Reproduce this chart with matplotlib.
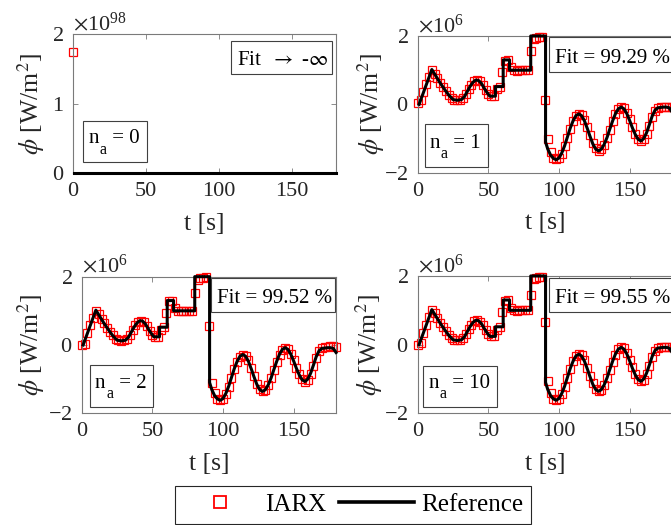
import numpy as np
import matplotlib
matplotlib.use("Agg")
import matplotlib.pyplot as plt
from matplotlib.lines import Line2D
from matplotlib.patches import Rectangle
from matplotlib.ticker import ScalarFormatter
from matplotlib.transforms import offset_copy

plt.rcParams.update({
    "font.family": ["Liberation Serif", "DejaVu Serif"],
    "mathtext.fontset": "stix",
    "axes.unicode_minus": False,
})

# ---------------------------------------------------------------- data
# Reference heat flux (vertices of the measured curve), in 10^6 W/m^2
ref_t = [1, 10, 13, 16, 19, 22, 25, 28, 31, 33, 35, 37, 39, 41, 43, 45, 47,
         49, 51, 55, 55, 60.5, 60.5, 65, 65, 80, 80, 90.5, 90.5, 92, 94, 96,
         98, 100, 102, 104, 106, 108, 110, 112, 114, 116, 118, 120, 122, 124,
         126, 128, 130, 132, 134, 136, 138, 140, 142, 144, 146, 148, 150, 152,
         154, 156, 158, 160, 162, 164, 166, 168, 170, 172, 174, 176, 178, 180]
ref_phi = [0.00, 1.02, 0.82, 0.62, 0.44, 0.27, 0.14, 0.12, 0.14, 0.22, 0.37,
           0.52, 0.64, 0.71, 0.70, 0.62, 0.48, 0.35, 0.24, 0.24, 0.52, 0.52,
           1.30, 1.30, 1.00, 1.00, 2.00, 2.00, -1.10, -1.30, -1.48, -1.58,
           -1.62, -1.57, -1.42, -1.21, -0.95, -0.69, -0.48, -0.33, -0.28,
           -0.33, -0.48, -0.70, -0.94, -1.16, -1.31, -1.36, -1.31, -1.17,
           -0.97, -0.72, -0.48, -0.27, -0.13, -0.08, -0.13, -0.27, -0.47,
           -0.69, -0.88, -1.02, -1.07, -1.00, -0.83, -0.59, -0.34, -0.17,
           -0.10, -0.09, -0.08, -0.08, -0.10, -0.22]

# IARX one-step predictions, sampled every 2 s, in 10^6 W/m^2
sample_t = np.arange(0, 181, 2)
iarx_na1 = [0.05, 0.13, 0.36, 0.59, 0.80, 1.00, 0.90, 0.76, 0.63, 0.50, 0.39,
            0.28, 0.18, 0.14, 0.13, 0.14, 0.18, 0.30, 0.45, 0.58, 0.68, 0.71,
            0.67, 0.56, 0.42, 0.30, 0.24, 0.24, 0.45, 0.52, 0.95, 1.28, 1.30,
            1.08, 1.00, 0.99, 1.00, 1.00, 1.00, 1.00, 1.55, 1.90, 1.95, 1.97,
            1.98, 0.12, -1.00, -1.40, -1.56, -1.60, -1.57, -1.44, -1.23, -0.97,
            -0.71, -0.49, -0.34, -0.28, -0.31, -0.45, -0.67, -0.91, -1.13,
            -1.29, -1.36, -1.32, -1.18, -0.98, -0.74, -0.50, -0.29, -0.14,
            -0.08, -0.11, -0.25, -0.44, -0.66, -0.86, -1.00, -1.07, -1.02,
            -0.86, -0.62, -0.37, -0.19, -0.10, -0.08, -0.08, -0.07, -0.07,
            -0.08]
iarx_na2 = [0.00, 0.02, 0.34, 0.58, 0.80, 1.00, 0.91, 0.77, 0.63, 0.50, 0.39,
            0.28, 0.18, 0.14, 0.13, 0.14, 0.18, 0.30, 0.45, 0.58, 0.68, 0.71,
            0.67, 0.56, 0.42, 0.30, 0.24, 0.24, 0.44, 0.52, 0.94, 1.28, 1.30,
            1.08, 1.00, 0.99, 1.00, 1.00, 1.00, 1.00, 1.52, 1.90, 1.95, 1.97,
            1.98, 0.55, -1.10, -1.42, -1.57, -1.61, -1.57, -1.44, -1.23, -0.97,
            -0.71, -0.49, -0.34, -0.28, -0.31, -0.45, -0.67, -0.91, -1.13,
            -1.29, -1.36, -1.32, -1.18, -0.98, -0.74, -0.50, -0.29, -0.14,
            -0.08, -0.11, -0.25, -0.44, -0.66, -0.86, -1.00, -1.07, -1.02,
            -0.86, -0.62, -0.37, -0.19, -0.08, -0.05, -0.05, -0.04, -0.04,
            -0.05]
iarx_na10 = [0.00, 0.05, 0.35, 0.58, 0.80, 1.00, 0.91, 0.77, 0.63, 0.50,
             0.39, 0.28, 0.18, 0.14, 0.13, 0.14, 0.18, 0.30, 0.45, 0.58, 0.68,
             0.71, 0.67, 0.56, 0.42, 0.30, 0.24, 0.24, 0.44, 0.52, 0.94, 1.28,
             1.30, 1.08, 1.00, 0.99, 1.00, 1.00, 1.00, 1.00, 1.45, 1.90, 1.95,
             1.97, 1.98, 0.65, -1.05, -1.42, -1.57, -1.61, -1.57, -1.44, -1.23,
             -0.97, -0.71, -0.49, -0.34, -0.28, -0.31, -0.45, -0.67, -0.91,
             -1.13, -1.29, -1.36, -1.32, -1.18, -0.98, -0.74, -0.50, -0.29,
             -0.14, -0.08, -0.11, -0.25, -0.44, -0.66, -0.86, -1.00, -1.07,
             -1.02, -0.86, -0.62, -0.37, -0.19, -0.10, -0.08, -0.08, -0.07,
             -0.07, -0.08]

# n_a = 0: the prediction diverges, only the first sample stays in range (W/m^2)
iarx_na0_t = [0]
iarx_na0 = [1.75e98]

fit_labels = ["Fit  $\\rightarrow$ -$\\infty$", "Fit = 99.29 %",
              "Fit = 99.52 %", "Fit = 99.55 %"]
na_orders = ["0", "1", "2", "10"]
x_ticks = [0, 50, 100, 150]

MEGA = 1e6
AX_GRAY = "#7a7a7a"
TXT_GRAY = "#262626"
BOX_GRAY = "#404040"
FIG_W, FIG_H = 671, 525

# ---------------------------------------------------------------- layout
positions = [
    [0.1088, 0.6705, 0.3920, 0.2642],
    [0.6225, 0.6710, 0.3790, 0.2604],
    [0.1218, 0.2128, 0.3790, 0.2602],
    [0.6225, 0.2128, 0.3790, 0.2615],
]
ylabel_x = [-0.100, -0.122, -0.138, -0.129]
# annotation boxes: (left, bottom, width, height) in pixels from the axes corner
fit_geom = [(157.7, 99.0, 101.0, 33.3), (131.3, 101.0, 124.0, 34.4),
            (129.3, 101.3, 124.0, 34.0), (131.3, 101.3, 124.0, 33.7)]
na_geom = [(10.3, 10.7, 63.4, 41.6), (7.3, 6.0, 63.3, 42.4),
           (8.3, 6.6, 63.0, 41.7), (5.6, 6.6, 73.4, 40.7)]


def draw_box(ax, pos, geom):
    aw, ah = pos[2] * FIG_W, pos[3] * FIG_H
    left, bottom, w, h = geom
    ax.add_patch(Rectangle((left / aw, bottom / ah), w / aw, h / ah,
                           transform=ax.transAxes, facecolor="white",
                           edgecolor=BOX_GRAY, linewidth=0.8,
                           clip_on=False, zorder=5))
    return aw, ah


def fit_label(ax, pos, geom, text):
    aw, ah = draw_box(ax, pos, geom)
    left, bottom = geom[:2]
    ax.text((left + 6) / aw, (bottom + 9) / ah, text, transform=ax.transAxes,
            fontsize=15, color="black", ha="left", va="baseline",
            zorder=6, clip_on=False)


def order_label(ax, pos, geom, order, renderer):
    """'n' with a low subscript 'a', followed by '= order'."""
    aw, ah = draw_box(ax, pos, geom)
    left, bottom = geom[:2]
    x0, y0 = (left + 5) / aw, (bottom + 19) / ah
    kw = dict(color="black", ha="left", va="baseline", zorder=6,
              clip_on=False)
    n_txt = ax.text(x0, y0, "n", transform=ax.transAxes, fontsize=15, **kw)
    n_w = n_txt.get_window_extent(renderer).width
    a_tr = offset_copy(ax.transAxes, fig=ax.figure, x=n_w + 0.5, y=-10.5,
                       units="dots")
    a_txt = ax.text(x0, y0, "a", transform=a_tr, fontsize=11.5, **kw)
    a_w = a_txt.get_window_extent(renderer).width
    r_tr = offset_copy(ax.transAxes, fig=ax.figure, x=n_w + a_w + 1.0, y=0,
                       units="dots")
    ax.text(x0, y0, " = " + order, transform=r_tr, fontsize=15, **kw)


# ---------------------------------------------------------------- figure
fig = plt.figure(figsize=(FIG_W / 100, FIG_H / 100), dpi=100)
renderer = fig.canvas.get_renderer()

series = [(iarx_na0_t, np.array(iarx_na0)),
          (sample_t, np.array(iarx_na1) * MEGA),
          (sample_t, np.array(iarx_na2) * MEGA),
          (sample_t, np.array(iarx_na10) * MEGA)]

for i, pos in enumerate(positions):
    ax = fig.add_axes(pos)
    tt, vals = series[i]
    ax.plot(tt, vals, ls="none", marker="s", ms=5.8, mfc="none", mec="red",
            mew=0.9, clip_on=False, zorder=2)
    ax.plot(ref_t, np.array(ref_phi) * MEGA, color="k", lw=2.2,
            clip_on=False, zorder=3)

    ax.set_xlim(0, 180)
    ax.set_xticks(x_ticks)
    if i == 0:
        ax.set_ylim(0, 2e98)
        ax.set_yticks([0, 1e98, 2e98])
    else:
        ax.set_ylim(-2 * MEGA, 2 * MEGA)
        ax.set_yticks([-2 * MEGA, 0, 2 * MEGA])
    fmt = ScalarFormatter(useMathText=True)
    fmt.set_powerlimits((0, 0))
    ax.yaxis.set_major_formatter(fmt)
    ax.yaxis.get_offset_text().set_fontsize(16)
    ax.yaxis.get_offset_text().set_color(TXT_GRAY)

    ax.tick_params(direction="in", top=True, right=True, length=3.5,
                   width=0.6, color=AX_GRAY, labelcolor=TXT_GRAY,
                   labelsize=16, pad=6.5)
    for sp in ax.spines.values():
        sp.set_color(AX_GRAY)
        sp.set_linewidth(0.8)

    ax.set_xlabel("t [s]", fontsize=18.5, color=TXT_GRAY)
    ax.set_ylabel("$\\phi$ [W/m$^2$]", fontsize=18.5, color=TXT_GRAY)
    ax.xaxis.set_label_coords(0.5, -0.29)
    ax.yaxis.set_label_coords(ylabel_x[i], 0.5)

    fit_label(ax, pos, fit_geom[i], fit_labels[i])
    order_label(ax, pos, na_geom[i], na_orders[i], renderer)

# shared legend
h_iarx = Line2D([], [], ls="none", marker="s", ms=8.5, mfc="none", mec="red",
                mew=1.3)
h_ref = Line2D([], [], color="k", lw=2.6)
leg = fig.legend([h_iarx, h_ref], ["IARX", "Reference"], loc="center",
                 bbox_to_anchor=(0.5266, 0.0381), ncol=2, frameon=True,
                 fancybox=False, edgecolor=TXT_GRAY, framealpha=1,
                 fontsize=18, handlelength=3.0, handletextpad=0.3,
                 columnspacing=0.5, borderpad=0.3)
leg.get_frame().set_linewidth(0.8)

fig.savefig("out.png", dpi=100)
